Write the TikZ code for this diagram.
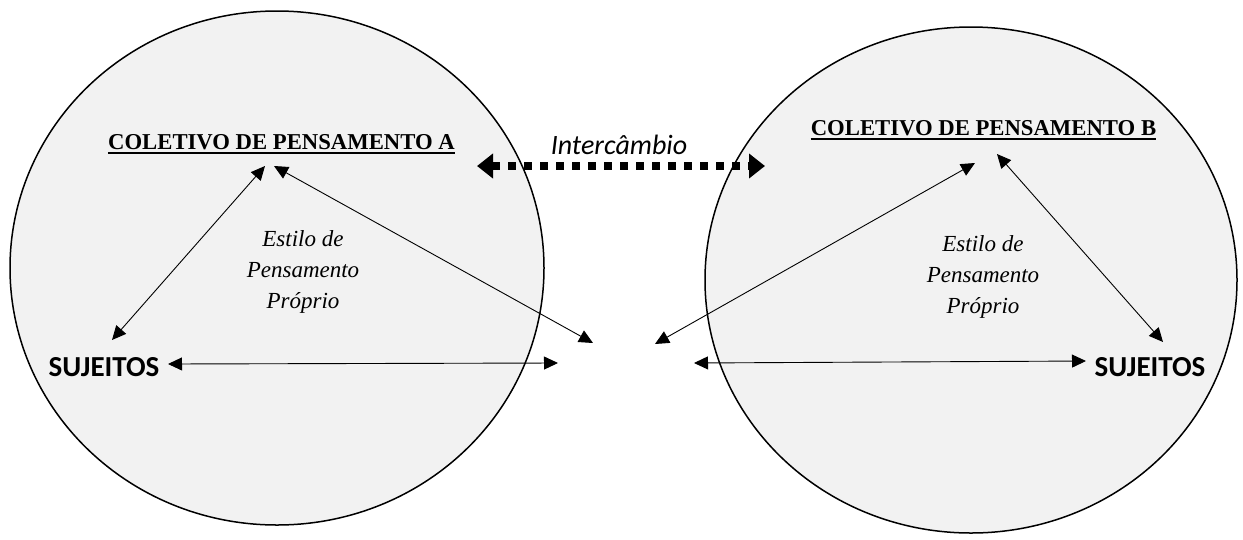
\documentclass[tikz,border=0pt]{standalone}
\usepackage{fontspec}
\setmainfont{Liberation Serif}
\newfontfamily\calfont{Carlito}
\usetikzlibrary{arrows.meta}
\definecolor{circfill}{HTML}{F2F2F2}
\begin{document}
\begin{tikzpicture}[x=1pt,y=-1pt,
  collective/.style={draw=black, line width=1.5pt, fill=circfill},
  titletext/.style={font=\fontsize{22.7}{26}\selectfont\bfseries, inner sep=0pt, anchor=base},
  stiletext/.style={font=\fontsize{23}{31}\selectfont\itshape, align=center, inner sep=0pt},
  subjtext/.style={font=\calfont\fontsize{29}{30}\selectfont\bfseries, inner sep=0pt, anchor=base},
  exchtext/.style={font=\calfont\fontsize{28}{30}\selectfont\itshape, inner sep=0pt, anchor=base},
  link/.style={line width=0.9pt, {Triangle[length=14pt,width=13pt]}-{Triangle[length=14pt,width=13pt]}},
  exchange/.style={line width=8pt, dash pattern=on 8pt off 8pt, {Triangle[length=16pt,width=24pt]}-{Triangle[length=16pt,width=24pt]}},
  uline/.style={line width=1.5pt}
]
\useasboundingbox (0,0) rectangle (1243,539);
\fill[white] (0,0) rectangle (1243,539);

% circles
\draw[collective] (277,268) ellipse [x radius=267, y radius=257];
\draw[collective] (971,280) ellipse [x radius=266, y radius=253];

% titles
\node[titletext] (tA) at (281.5,149) {COLETIVO DE PENSAMENTO A};
\draw[uline] ([yshift=-4pt]tA.base west) -- ([yshift=-4pt]tA.base east);
\node[titletext] (tB) at (983.5,135) {COLETIVO DE PENSAMENTO B};
\draw[uline] ([yshift=-4pt]tB.base west) -- ([yshift=-4pt]tB.base east);

% exchange
\node[exchtext] (ex) at (619,154) {Intercâmbio};
\coordinate (exL) at (477,166);
\coordinate (exR) at (765,166);
\draw[exchange] (exL) -- (exR);

% subjects
\node[subjtext] (sA) at (104,376) {SUJEITOS};
\node[subjtext] (sB) at (1150,376) {SUJEITOS};

% style text
\node[stiletext] (stA) at (303,272) {Estilo de\\Pensamento\\Próprio};
\node[stiletext] (stB) at (983,277) {Estilo de\\Pensamento\\Próprio};

% arrow end points
\coordinate (aT1) at (265,166);
\coordinate (aT2) at (274,166);
\coordinate (aS) at (112,340);
\coordinate (aM) at (593,343);
\coordinate (aH1) at (168,364);
\coordinate (aH2) at (558,363);

\coordinate (bT1) at (975,163);
\coordinate (bT2) at (997,154);
\coordinate (bS) at (1163,342);
\coordinate (bM) at (655,344);
\coordinate (bH1) at (694,363);
\coordinate (bH2) at (1086,361);

\draw[link] (aT1) -- (aS);
\draw[link] (aT2) -- (aM);
\draw[link] (aH1) -- (aH2);

\draw[link] (bT1) -- (bM);
\draw[link] (bT2) -- (bS);
\draw[link] (bH1) -- (bH2);
\end{tikzpicture}
\end{document}
